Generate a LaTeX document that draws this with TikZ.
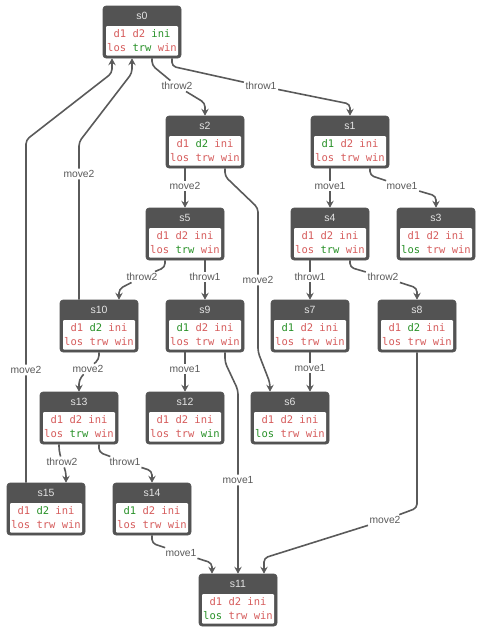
\documentclass[tikz,border=0pt]{standalone}
\usepackage{fontspec}
\setmainfont{Liberation Sans}
\newfontfamily\monof{DejaVu Sans Mono}
\usetikzlibrary{arrows.meta,calc}

\definecolor{boxgray}{RGB}{83,83,83}
\definecolor{offred}{RGB}{214,92,92}
\definecolor{ongreen}{RGB}{40,145,40}
\definecolor{edgegray}{RGB}{90,90,90}
\definecolor{titlegray}{RGB}{228,228,228}

\newcommand{\rd}[1]{\textcolor{offred}{#1}}
\newcommand{\gn}[1]{\textcolor{ongreen}{#1}}
% state box: name, position, first line, second line
\newcommand{\stnode}[4]{%
  \node[state] (#1) at (#2) {};
  \node[stitle] (#1-t) at ([yshift=-10pt]#1.north) {#1};
  \node[sbody] (#1-b) at ([yshift=2.5pt]#1.south) {#3\\#4};
}

\tikzset{
  state/.style={draw=boxgray, fill=boxgray, rounded corners=3pt, line width=0.6pt,
    minimum width=78pt, minimum height=52pt, inner sep=0pt},
  stitle/.style={text=titlegray, inner sep=0pt, font=\fontsize{10.5pt}{12pt}\selectfont},
  sbody/.style={anchor=south, fill=white, rounded corners=1pt, minimum width=72pt,
    minimum height=29.5pt, inner sep=0pt, align=center,
    font={\monof\fontsize{10.5pt}{14.4pt}\selectfont}},
  edge/.style={draw=edgegray, line width=1.6pt, rounded corners=4pt,
    -{Stealth[length=7pt,width=7.5pt,inset=2.5pt]}},
  elabel/.style={fill=white, inner sep=1.5pt, text=edgegray,
    font=\fontsize{10.3pt}{12pt}\selectfont}
}

\begin{document}
\begin{tikzpicture}[x=1pt, y=-1pt]
\useasboundingbox (0,0) rectangle (483,633);
% states
\stnode{s0}{142,32}{\rd{d1} \rd{d2} \gn{ini}}{\rd{los} \gn{trw} \rd{win}}
\stnode{s2}{205,142}{\rd{d1} \gn{d2} \rd{ini}}{\rd{los} \rd{trw} \rd{win}}
\stnode{s1}{350,142}{\gn{d1} \rd{d2} \rd{ini}}{\rd{los} \rd{trw} \rd{win}}
\stnode{s5}{185,234}{\rd{d1} \rd{d2} \rd{ini}}{\rd{los} \gn{trw} \rd{win}}
\stnode{s4}{330,234}{\rd{d1} \rd{d2} \rd{ini}}{\rd{los} \gn{trw} \rd{win}}
\stnode{s3}{436,234}{\rd{d1} \rd{d2} \rd{ini}}{\gn{los} \rd{trw} \rd{win}}
\stnode{s10}{99,326}{\rd{d1} \gn{d2} \rd{ini}}{\rd{los} \rd{trw} \rd{win}}
\stnode{s9}{205,326}{\gn{d1} \rd{d2} \rd{ini}}{\rd{los} \rd{trw} \rd{win}}
\stnode{s7}{310,326}{\gn{d1} \rd{d2} \rd{ini}}{\rd{los} \rd{trw} \rd{win}}
\stnode{s8}{417,326}{\rd{d1} \gn{d2} \rd{ini}}{\rd{los} \rd{trw} \rd{win}}
\stnode{s13}{79,418}{\rd{d1} \rd{d2} \rd{ini}}{\rd{los} \gn{trw} \rd{win}}
\stnode{s12}{185,418}{\rd{d1} \rd{d2} \rd{ini}}{\rd{los} \rd{trw} \gn{win}}
\stnode{s6}{290,418}{\rd{d1} \rd{d2} \rd{ini}}{\gn{los} \rd{trw} \rd{win}}
\stnode{s15}{46,509}{\rd{d1} \gn{d2} \rd{ini}}{\rd{los} \rd{trw} \rd{win}}
\stnode{s14}{152,509}{\gn{d1} \rd{d2} \rd{ini}}{\rd{los} \rd{trw} \rd{win}}
\stnode{s11}{238,600}{\rd{d1} \rd{d2} \rd{ini}}{\gn{los} \rd{trw} \rd{win}}

% labels
\node[elabel] (m15-0) at (26,370) {move2};
\node[elabel] (m10-0) at (79,174) {move2};
\node[elabel] (t0-2) at (177,86) {throw2};
\node[elabel] (t0-1) at (261,86) {throw1};
\node[elabel] (m2-5) at (185,186) {move2};
\node[elabel] (m2-6) at (258,280) {move2};
\node[elabel] (m1-4) at (330,186) {move1};
\node[elabel] (m1-3) at (402,186) {move1};
\node[elabel] (t5-10) at (142,277) {throw2};
\node[elabel] (t5-9) at (205,277) {throw1};
\node[elabel] (t4-7) at (310,277) {throw1};
\node[elabel] (t4-8) at (383,277) {throw2};
\node[elabel] (m10-13) at (88,369) {move2};
\node[elabel] (m9-12) at (185,369) {move1};
\node[elabel] (m9-11) at (238,480) {move1};
\node[elabel] (m7-6) at (310,368) {move1};
\node[elabel] (m8-11) at (385,520) {move2};
\node[elabel] (t13-15) at (62,462) {throw2};
\node[elabel] (t13-14) at (125,462) {throw1};
\node[elabel] (m14-11) at (181,553) {move1};

% transitions
\draw[edge] ([xshift=-20pt]s15.north) -- (m15-0) -- (26,140) -- (112,73) -- ([xshift=-30pt]s0.south);
\draw[edge] ([xshift=-20pt]s10.north) -- (m10-0) -- (79,142) -- (132,73) -- ([xshift=-10pt]s0.south);
\draw[edge] ([xshift=10pt]s0.south) -- ++(0,7) -- (t0-2) -- (205,103) -- (s2.north);
\draw[edge] ([xshift=30pt]s0.south) -- ++(0,8) -- (t0-1) -- (350,104) -- (s1.north);
\draw[edge] ([xshift=-20pt]s2.south) -- (m2-5) -- (s5.north);
\draw[edge] ([xshift=20pt]s2.south) -- ++(0,8) -- (258,208) -- (m2-6) -- (258,352) -- (270,383) -- ([xshift=-20pt]s6.north);
\draw[edge] ([xshift=-20pt]s1.south) -- (m1-4) -- (s4.north);
\draw[edge] ([xshift=20pt]s1.south) -- ++(0,7) -- (m1-3) -- (436,196) -- (s3.north);
\draw[edge] ([xshift=-20pt]s5.south) -- ++(0,7) -- (t5-10) -- (119,289) -- ([xshift=20pt]s10.north);
\draw[edge] ([xshift=20pt]s5.south) -- (t5-9) -- (s9.north);
\draw[edge] ([xshift=-20pt]s4.south) -- (t4-7) -- (s7.north);
\draw[edge] ([xshift=20pt]s4.south) -- ++(0,7) -- (t4-8) -- (417,288) -- (s8.north);
\draw[edge] (s10.south) -- ++(0,7) -- (m10-13) -- (79,380) -- (s13.north);
\draw[edge] ([xshift=-20pt]s9.south) -- (m9-12) -- (s12.north);
\draw[edge] ([xshift=20pt]s9.south) -- ++(0,10) -- (238,390) -- (m9-11) -- (s11.north);
\draw[edge] (s7.south) -- (m7-6) -- ([xshift=20pt]s6.north);
\draw[edge] (s8.south) -- (417,508) -- (m8-11) -- (264,558) -- ([xshift=26pt]s11.north);
\draw[edge] ([xshift=-20pt]s13.south) -- ++(0,6) -- (t13-15) -- (66,472) -- ([xshift=20pt]s15.north);
\draw[edge] ([xshift=20pt]s13.south) -- ++(0,8) -- (t13-14) -- (152,471) -- (s14.north);
\draw[edge] (s14.south) -- ++(0,8) -- (m14-11) -- (212,563) -- ([xshift=-26pt]s11.north);
\end{tikzpicture}
\end{document}
